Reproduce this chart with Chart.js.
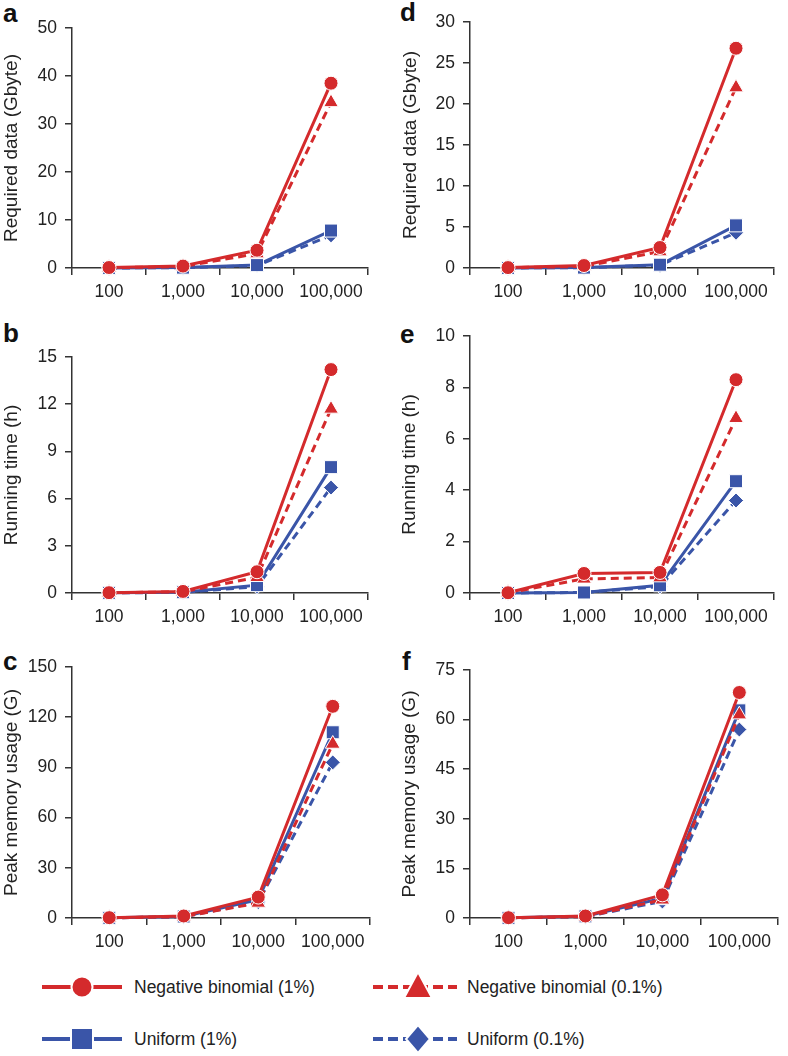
<!DOCTYPE html>
<html><head><meta charset="utf-8">
<script src="https://cdn.jsdelivr.net/npm/chart.js@4"></script>
<style>
body{margin:0;background:#fff;width:788px;height:1056px;position:relative;overflow:hidden;font-family:"Liberation Sans",Arial,sans-serif;color:#222}
canvas{position:absolute}
.lbl{position:absolute;font-weight:bold;font-size:26px;line-height:26px;color:#111}
.leg{position:absolute;font-size:17.5px;line-height:20px;color:#222}
svg{position:absolute}
</style></head><body>

<div class="lbl" style="left:3px;top:0px">a</div>
<div class="lbl" style="left:400px;top:-1px">d</div>
<div class="lbl" style="left:3px;top:320px">b</div>
<div class="lbl" style="left:400px;top:321px">e</div>
<div class="lbl" style="left:3px;top:648px">c</div>
<div class="lbl" style="left:402px;top:648px">f</div>

<canvas id="ca" width="394" height="310" style="left:0;top:0"></canvas>
<canvas id="cd" width="394" height="310" style="left:394px;top:0"></canvas>
<canvas id="cb" width="394" height="330" style="left:0;top:310px"></canvas>
<canvas id="ce" width="394" height="330" style="left:394px;top:310px"></canvas>
<canvas id="cc" width="394" height="320" style="left:0;top:640px"></canvas>
<canvas id="cf" width="394" height="320" style="left:394px;top:640px"></canvas>

<svg width="788" height="96" style="left:0;top:960px" id="legsvg"></svg>

<script>
// ---- data ----
const categories = ['100', '1,000', '10,000', '100,000'];
const seriesNames = ['Negative binomial (1%)', 'Negative binomial (0.1%)', 'Uniform (1%)', 'Uniform (0.1%)'];

// a: Required data (Gbyte), left column
const aNB1 = [0.1, 0.4, 3.7, 38.5];
const aNB01 = [0.05, 0.3, 3.0, 34.5];
const aU1 = [0.02, 0.08, 0.6, 7.8];
const aU01 = [0.01, 0.06, 0.5, 6.8];
// d: Required data (Gbyte), right column
const dNB1 = [0.05, 0.3, 2.5, 26.8];
const dNB01 = [0.03, 0.2, 2.0, 22.0];
const dU1 = [0.01, 0.05, 0.4, 5.2];
const dU01 = [0.01, 0.04, 0.35, 4.3];
// b: Running time (h)
const bNB1 = [0.02, 0.1, 1.35, 14.2];
const bNB01 = [0.01, 0.08, 1.0, 11.7];
const bU1 = [0.01, 0.05, 0.5, 8.0];
const bU01 = [0.01, 0.04, 0.4, 6.7];
// e: Running time (h)
const eNB1 = [0.01, 0.76, 0.8, 8.3];
const eNB01 = [0.01, 0.55, 0.6, 6.8];
const eU1 = [0.0, 0.02, 0.3, 4.35];
const eU01 = [0.0, 0.02, 0.25, 3.6];
// c: Peak memory usage (G)
const cNB1 = [0.2, 1.2, 12.5, 126.5];
const cNB01 = [0.1, 0.8, 9.0, 104];
const cU1 = [0.1, 0.9, 11.0, 111];
const cU01 = [0.1, 0.7, 9.5, 93];
// f: Peak memory usage (G)
const fNB1 = [0.1, 0.6, 7.0, 68.2];
const fNB01 = [0.05, 0.4, 5.5, 61.5];
const fU1 = [0.05, 0.5, 6.0, 62.8];
const fU01 = [0.05, 0.4, 5.0, 57];

// y-axis ranges
const yMaxA = 50, yStepA = 10;
const yMaxD = 30, yStepD = 5;
const yMaxB = 15, yStepB = 3;
const yMaxE = 10, yStepE = 2;
const yMaxC = 150, yStepC = 30;
const yMaxF = 75, yStepF = 15;

// ---- styles ----
const RED = '#d42a2c', BLUE = '#3a55a8';
const colors = [RED, RED, BLUE, BLUE];
const dashes = [[], [8, 5], [], [8, 5]];
const pStyles = ['circle', 'triangle', 'rect', 'rectRot'];
const pRadii = [7, 8.5, 9.2, 7.5];
const FONT = '"Liberation Sans", Arial, sans-serif';
const AX = '#333';

function makeChart(id, series, cfg) {
  new Chart(document.getElementById(id), {
    type: 'line',
    data: {
      labels: categories,
      datasets: series.map((vals, i) => ({
        label: seriesNames[i], data: vals,
        borderColor: colors[i], backgroundColor: colors[i],
        borderWidth: 3, borderDash: dashes[i],
        pointStyle: pStyles[i], pointRadius: pRadii[i],
        pointBackgroundColor: colors[i], pointBorderColor: '#fff', pointBorderWidth: 1,
        tension: 0, clip: false
      }))
    },
    options: {
      responsive: false, animation: false, devicePixelRatio: 1,
      plugins: { legend: { display: false }, tooltip: { enabled: false } },
      layout: { padding: { top: cfg.top, right: cfg.right, left: 0, bottom: 0 } },
      scales: {
        x: {
          offset: true,
          grid: { offset: true, drawOnChartArea: false, drawTicks: true, tickLength: 7, color: AX, lineWidth: 1.5 },
          border: { color: AX, width: 1.5 },
          ticks: { color: '#222', font: { size: 17.5, family: FONT }, padding: 7, maxRotation: 0, autoSkip: false },
          afterFit(s) { s.height = cfg.xh; }
        },
        y: {
          min: 0, max: cfg.max,
          ticks: { stepSize: cfg.step, color: '#222', font: { size: 17.5, family: FONT }, padding: 8 },
          grid: { drawOnChartArea: false, drawTicks: true, tickLength: 7, color: AX, lineWidth: 1.5 },
          border: { color: AX, width: 1.5 },
          title: { display: true, text: cfg.title, color: '#222', font: { size: 19, family: FONT }, padding: { top: cfg.tp, bottom: 0 } },
          afterFit(s) { s.width = cfg.yw; }
        }
      }
    }
  });
}

makeChart('ca', [aNB1, aNB01, aU1, aU01], { top: 28, right: 26, xh: 42, yw: 72, max: yMaxA, step: yStepA, title: 'Required data (Gbyte)', tp: 0 });
makeChart('cd', [dNB1, dNB01, dU1, dU01], { top: 22, right: 14, xh: 42, yw: 76, max: yMaxD, step: yStepD, title: 'Required data (Gbyte)', tp: 5 });
makeChart('cb', [bNB1, bNB01, bU1, bU01], { top: 47, right: 26, xh: 47, yw: 72, max: yMaxB, step: yStepB, title: 'Running time (h)', tp: 0 });
makeChart('ce', [eNB1, eNB01, eU1, eU01], { top: 26, right: 14, xh: 47, yw: 76, max: yMaxE, step: yStepE, title: 'Running time (h)', tp: 4 });
makeChart('cc', [cNB1, cNB01, cU1, cU01], { top: 27, right: 24, xh: 42, yw: 72, max: yMaxC, step: yStepC, title: 'Peak memory usage (G)', tp: 0 });
makeChart('cf', [fNB1, fNB01, fU1, fU01], { top: 30, right: 6, xh: 42, yw: 76, max: yMaxF, step: yStepF, title: 'Peak memory usage (G)', tp: 4 });

// ---- legend (HTML/SVG) ----
(function () {
  const svg = document.getElementById('legsvg');
  const NS = 'http://www.w3.org/2000/svg';
  const items = [
    { x1: 42, x2: 122, cx: 82, cy: 27, tx: 134 },
    { x1: 373, x2: 457, cx: 418, cy: 27, tx: 467 },
    { x1: 42, x2: 122, cx: 82, cy: 79, tx: 134 },
    { x1: 373, x2: 457, cx: 418, cy: 79, tx: 467 }
  ];
  items.forEach((it, i) => {
    const ln = document.createElementNS(NS, 'line');
    ln.setAttribute('x1', it.x1); ln.setAttribute('x2', it.x2);
    ln.setAttribute('y1', it.cy); ln.setAttribute('y2', it.cy);
    ln.setAttribute('stroke', colors[i]); ln.setAttribute('stroke-width', 4);
    if (dashes[i].length) ln.setAttribute('stroke-dasharray', '10 5');
    svg.appendChild(ln);
    let m;
    const { cx, cy } = it;
    if (pStyles[i] === 'circle') {
      m = document.createElementNS(NS, 'circle');
      m.setAttribute('cx', cx); m.setAttribute('cy', cy); m.setAttribute('r', 10.5);
    } else if (pStyles[i] === 'triangle') {
      m = document.createElementNS(NS, 'polygon');
      m.setAttribute('points', `${cx},${cy - 15} ${cx + 14},${cy + 11} ${cx - 14},${cy + 11}`);
    } else if (pStyles[i] === 'rect') {
      m = document.createElementNS(NS, 'rect');
      m.setAttribute('x', cx - 11); m.setAttribute('y', cy - 11); m.setAttribute('width', 22); m.setAttribute('height', 22);
    } else {
      m = document.createElementNS(NS, 'polygon');
      m.setAttribute('points', `${cx},${cy - 14} ${cx + 12},${cy} ${cx},${cy + 14} ${cx - 12},${cy}`);
    }
    m.setAttribute('fill', colors[i]); m.setAttribute('stroke', '#fff'); m.setAttribute('stroke-width', 2);
    svg.appendChild(m);
    const d = document.createElement('div');
    d.className = 'leg';
    d.style.left = it.tx + 'px';
    d.style.top = (960 + cy - 10) + 'px';
    d.textContent = seriesNames[i];
    document.body.appendChild(d);
  });
})();
</script>
</body></html>
